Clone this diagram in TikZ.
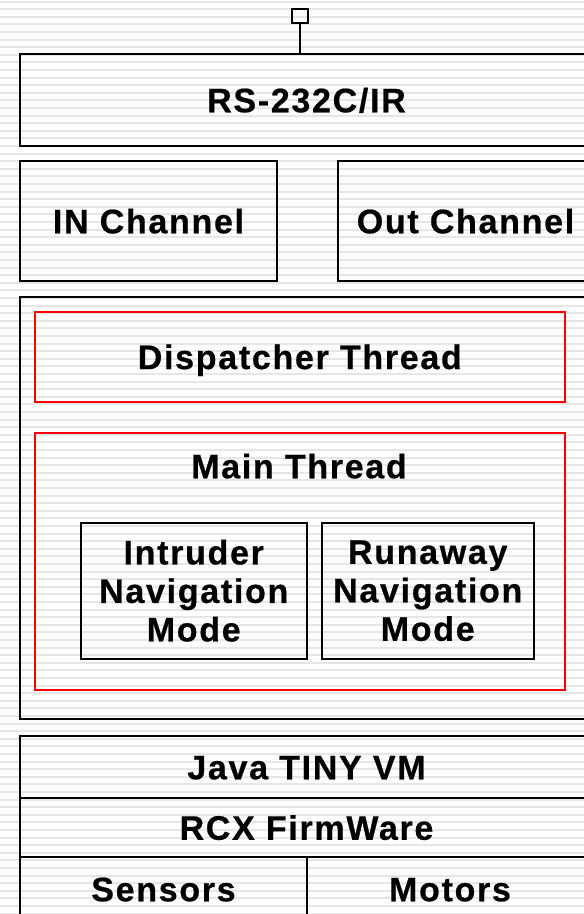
\documentclass[tikz,border=0pt]{standalone}
\usepackage{fontspec}
\newfontfamily\lblfont{Liberation Sans}[LetterSpace=5, BoldFeatures={FakeBold=0.6}]
\definecolor{stripe}{HTML}{E6E6E6}
\definecolor{redline}{HTML}{FF0000}
\newcommand\bigtxt{\lblfont\bfseries\fontsize{34}{38.5}\selectfont}
\tikzset{
  blk/.style={draw=black, line width=2pt, rectangle, inner sep=0pt, anchor=north west,
    font=\bigtxt, align=center},
  onel/.style={text height=24.5pt, text depth=0pt},
  redbox/.style={blk, onel, draw=redline, line width=1.6pt},
  navbox/.style={blk, line width=1.5pt},
  lbl/.style={inner sep=0pt, font=\bigtxt, onel}
}
\begin{document}
\begin{tikzpicture}[x=1pt,y=-1pt]
\useasboundingbox (0,0) rectangle (584,914);
\clip (0,0) rectangle (584,914);
\fill[white] (0,0) rectangle (584,914);
\foreach \i in {0,...,120}{
  \draw[stripe, line width=2pt] (0,{1.5+7.6*\i}) -- (584,{1.5+7.6*\i});
}
% top port
\node[draw, line width=1.8pt, minimum width=16pt, minimum height=14pt, inner sep=0pt] (port) at (300,16) {};
\node[blk, onel, minimum width=573pt, minimum height=92pt] (rs) at (19,53) {RS-232C/IR};
\draw[line width=2pt] (port.south) -- (port.south |- rs.north);
\node[blk, onel, minimum width=257pt, minimum height=120pt] (in) at (19,160) {IN Channel};
\node[blk, onel, minimum width=255pt, minimum height=120pt] (out) at (337,160) {Out Channel};
\node[blk, minimum width=573pt, minimum height=422pt] (big) at (19,296) {};
\node[redbox, minimum width=530pt, minimum height=90pt] (disp) at (34,311) {Dispatcher Thread};
\node[redbox, minimum width=530pt, minimum height=257pt] (main) at (34,432) {};
\node[lbl] (mainlbl) at (299,466) {Main Thread};
\node[navbox, minimum width=226pt, minimum height=136pt] (intr) at (80,522) {Intruder\\Navigation\\Mode};
\node[navbox, minimum width=212pt, minimum height=136pt] (runa) at (321,522) {Runaway\\Navigation\\Mode};
\node[blk, onel, minimum width=573pt, minimum height=62pt] (java) at (19,735) {Java TINY VM};
\node[blk, onel, minimum width=573pt, minimum height=59pt] (rcx) at (19,797) {RCX FirmWare};
\node[blk, onel, minimum width=287pt, minimum height=64pt] (sens) at (19,856) {Sensors};
\node[blk, onel, minimum width=286pt, minimum height=64pt] (mot) at (306,856) {Motors};
\end{tikzpicture}
\end{document}
